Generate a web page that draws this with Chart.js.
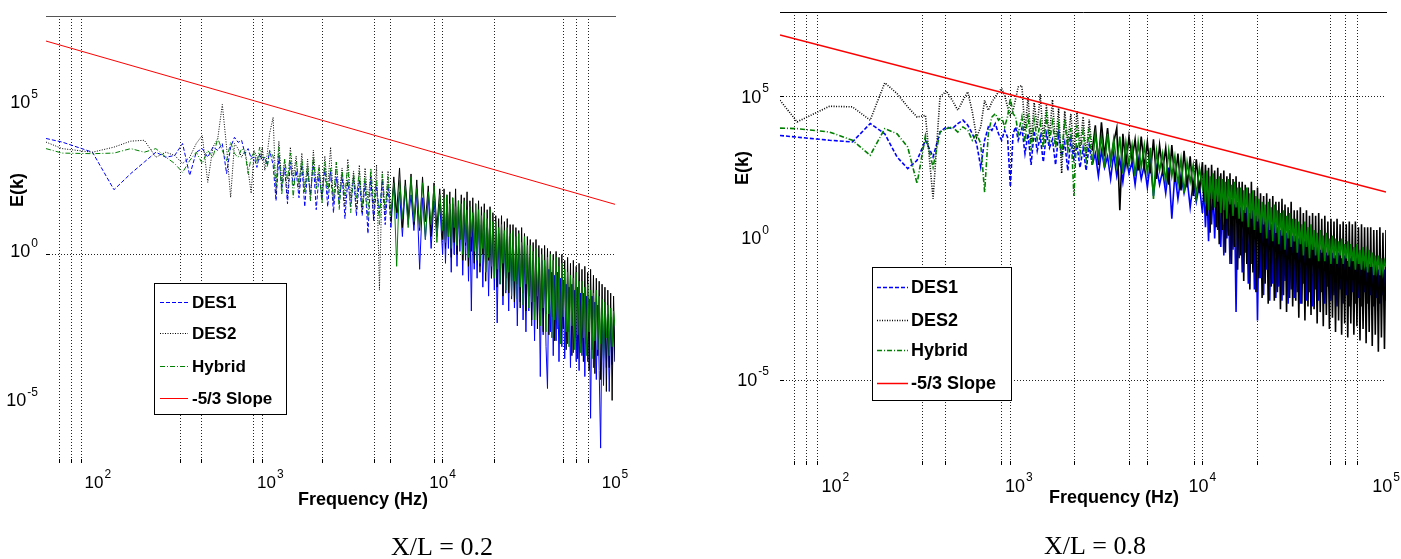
<!DOCTYPE html>
<html>
<head>
<meta charset="utf-8">
<script src="https://cdn.jsdelivr.net/npm/chart.js@4.4.1/dist/chart.umd.min.js"></script>
<style>
body { margin: 0; background: #fff; width: 1401px; height: 559px; overflow: hidden; position: relative; }
canvas { position: absolute; top: 0; }
#left { left: 0; }
#right { left: 700px; }
</style>
</head>
<body>
<canvas id="left" width="700" height="559"></canvas>
<canvas id="right" width="701" height="559"></canvas>
<script>
// ---- data (values are log10 of E(k)) ----
const seriesNames = ['DES1', 'DES2', 'Hybrid', '-5/3 Slope'];
const xTitle = 'Frequency (Hz)';
const yTitle = 'E(k)';
const captions = ['X/L = 0.2', 'X/L = 0.8'];
const xTickExps = [2, 3, 4, 5];
const yTickExps = [5, 0, -5];
const gridFreqHz = [60, 70, 80, 300, 400, 800, 900, 2000, 4000, 5000, 9000, 10000, 20000, 50000, 60000, 70000];

const freqHz = [
  50, 62, 93, 124, 155, 186, 217, 248, 279, 310,
  341, 372, 403, 434, 465, 496, 527, 558, 589, 620,
  651, 682, 713, 744, 775, 806, 837, 868, 899, 930,
  961, 992,
  1039, 1080, 1122, 1166, 1212, 1259, 1308, 1359, 1413, 1468,
  1525, 1585, 1647, 1711, 1778, 1848, 1920, 1995, 2073, 2154,
  2239, 2326, 2417, 2512, 2610, 2712, 2818, 2929, 3043, 3162,
  3286, 3415, 3548, 3687, 3831, 3981, 4137, 4299, 4467, 4642,
  4823, 5012, 5208, 5412, 5623, 5843, 6072, 6310, 6556, 6813,
  7079, 7356, 7644, 7943, 8254, 8577, 8913, 9261, 9624, 10000,
  10190, 10390, 10590, 10800, 11010, 11220, 11440, 11660, 11890, 12120, 12350, 12590,
  12830, 13080, 13340, 13590, 13860, 14130, 14400, 14680, 14960, 15250, 15550, 15850,
  16160, 16470, 16790, 17110, 17450, 17780, 18130, 18480, 18840, 19200, 19570, 19950,
  20340, 20730, 21140, 21540, 21960, 22390, 22820, 23260, 23710, 24170, 24640, 25120,
  25610, 26100, 26610, 27120, 27650, 28180, 28730, 29290, 29850, 30430, 31020, 31620,
  32240, 32860, 33500, 34150, 34810, 35480, 36170, 36870, 37580, 38310, 39050, 39810,
  40580, 41370, 42170, 42990, 43820, 44670, 45530, 46420, 47320, 48230, 49170, 50120,
  51090, 52080, 53090, 54120, 55170, 56230, 57330, 58430, 59560, 60720, 61900, 63100,
  64320, 65560, 66830, 68130, 69450, 70790, 72170, 73560, 74990, 76440, 77920, 79430,
  80970, 82540, 84140, 85770, 87430, 89130, 90850, 92610, 94410, 96240, 98100, 100000
];

// X/L = 0.2
const des1LeftExp = [
  3.89, 3.77, 3.43, 2.17, 2.71, 3.1, 3.43, 3.26, 3.32, 3.72,
  2.65, 3.43, 3.55, 3.26, 3.6, 3.49, 3.72, 2.71, 3.6, 3.93,
  3.76, 3.83, 3.38, 3.55, 3.22, 3.26, 2.92, 3.38, 3.15, 3.26,
  2.99, 3.49,
  3.0, 1.8, 3.3, 2.2, 2.9, 1.7, 3.1, 2.3, 2.8, 1.9,
  3.0, 1.6, 2.8, 2.0, 3.1, 1.5, 2.7, 1.9, 2.9, 1.6,
  2.8, 1.4, 2.6, 1.7, 2.7, 1.2, 2.5, 1.6, 2.6, 1.3,
  2.5, 1.3, 2.4, 0.7, 2.6, 1.1, 2.3, 1.4, 2.5, 1.0,
  2.3, 0.9, 2.4, 1.2, 2.1, 0.6, 2.3, 1.0, 2.0, 0.8,
  2.1, -0.5, 1.9, 0.5, 2.0, 0.2, 1.8, 0.6, 1.7, 0.0,
  1.7, -0.3, 1.6, 0.2, 1.5, -0.6, 1.7, 0.0, 1.4, -0.4, 1.6, 0.1,
  1.5, -0.7, 1.3, -0.2, 1.4, -0.9, 1.2, -1.9, 1.3, -0.5, 1.1, -0.8,
  1.2, -0.4, 1.0, -1.1, 1.1, -0.6, 0.9, -1.4, 1.0, -0.8, 0.8, -1.2,
  0.8, -2.3, 0.7, -1.0, 0.6, -1.7, 0.7, -1.3, 0.5, -1.9, 0.6, -1.5,
  0.4, -1.8, 0.3, -2.4, 0.2, -1.6, 0.3, -2.2, 0.1, -2.6, 0.0, -1.9,
  -0.1, -2.4, -0.2, -2.9, -0.1, -2.2, -0.3, -4.1, -0.2, -2.7, -0.4, -3.1,
  -4.5, -0.5, -2.6, -0.6, -3.4, -0.7, -2.9, -0.6, -3.6, -0.8, -3.1, -0.9,
  -3.5, -1.0, -3.0, -1.1, -3.8, -1.0, -3.3, -1.2, -3.6, -1.1, -3.9, -1.3,
  -3.4, -1.3, -4.1, -1.4, -3.6, -1.5, -5.5, -1.4, -3.8, -1.6, -4.2, -1.7,
  -3.9, -6.5, -1.8, -4.4, -1.9, -3.8, -2.0, -4.6, -2.1, -3.7, -2.2, -3.6
];
const des2LeftExp = [
  3.77, 3.55, 3.43, 3.6, 3.8, 3.83, 3.26, 3.43, 3.32, 3.05,
  3.26, 3.72, 3.99, 2.42, 3.6, 3.89, 5.03, 3.6, 1.91, 3.72,
  3.55, 3.26, 3.49, 2.82, 2.05, 3.49, 3.26, 3.15, 3.6, 2.82,
  3.38, 4.06,
  4.6, 2.0, 3.8, 2.4, 3.2, 1.9, 3.6, 2.6, 3.3, 2.2,
  3.4, 2.1, 3.2, 1.8, 3.5, 2.3, 3.0, 1.9, 3.3, 2.2,
  3.6, 1.7, 3.1, 2.0, 2.9, 1.6, 3.2, 1.9, 2.8, 1.5,
  3.0, 1.4, 2.9, 1.8, 2.7, 1.2, 3.0, -1.2, 2.8, 1.3,
  2.8, 1.1, 2.6, 1.4, 2.9, 0.9, 2.5, 1.2, 2.7, 1.0,
  2.5, 0.8, 2.6, 1.1, 2.3, 0.6, 2.4, 0.9, 2.2, 0.5,
  2.2, 0.2, 2.0, 0.6, 2.1, -0.1, 1.9, 0.4, 2.2, 0.0, 1.8, 0.5,
  2.0, -0.2, 1.9, 0.3, 2.1, -0.4, 1.8, 0.1, 1.9, -0.3, 1.7, 0.2,
  1.8, -0.6, 1.6, 0.0, 1.7, -0.9, 1.5, -0.2, 1.6, -0.8, 1.4, -0.4,
  1.3, -1.1, 1.2, -0.6, 1.3, -1.4, 1.1, -0.8, 1.2, -1.3, 1.0, -0.9,
  1.0, -1.6, 0.9, -1.0, 0.8, -1.8, 0.9, -1.3, 0.7, -1.9, 0.6, -1.4,
  0.5, -2.2, 0.4, -1.6, 0.5, -2.5, 0.3, -1.9, 0.2, -2.6, 0.3, -2.0,
  0.2, -2.7, 0.1, -2.1, 0.0, -2.9, 0.1, -2.4, -0.1, -3.0, 0.0, -2.5,
  -0.2, -3.2, -0.1, -2.6, -0.3, -3.4, -0.2, -2.8, -0.4, -3.5, -0.3, -3.0,
  -0.5, -3.6, -0.4, -3.0, -0.6, -3.9, -0.5, -3.2, -0.7, -4.0, -0.8, -3.4,
  -0.9, -4.2, -1.0, -3.5, -1.1, -4.6, -1.2, -3.8, -1.3, -4.9, -1.4, -3.6
];
const hybridLeftExp = [
  3.55, 3.4, 3.38, 3.4, 3.55, 3.43, 3.55, 3.26, 3.05, 2.75,
  3.15, 3.43, 3.05, 3.49, 3.26, 3.89, 3.49, 3.15, 3.76, 3.38,
  3.26, 3.55, 3.43, 2.71, 3.26, 3.43, 3.05, 3.6, 3.22, 3.26,
  2.92, 3.49,
  3.3, 2.3, 3.6, 2.0, 3.2, 2.5, 3.4, 1.9, 3.1, 2.4,
  3.2, 2.1, 3.0, 1.8, 3.3, 2.2, 2.9, 1.7, 3.1, 2.0,
  2.9, 1.8, 3.1, 1.5, 2.8, 2.0, 3.0, 1.4, 2.7, 1.9,
  2.8, 1.6, 2.6, 1.2, 2.9, 1.7, 2.5, 1.0, 2.7, 1.5,
  2.6, 1.3, 2.4, -0.4, 2.5, 1.2, 2.3, 0.9, 2.6, 1.1,
  2.2, 0.9, 2.4, 0.5, 2.1, 1.0, 2.3, 0.4, 2.0, 0.8,
  1.9, 0.4, 2.0, 0.6, 1.7, 0.2, 1.9, 0.9, 1.6, 0.3, 1.8, 0.5,
  1.7, 0.0, 1.8, 0.4, 1.5, -0.1, 1.6, 0.6, 1.4, 0.1, 1.7, -0.2,
  1.5, -0.3, 1.3, 0.2, 1.4, -0.6, 1.2, -0.1, 1.5, -0.4, 1.1, -0.8,
  1.1, -0.5, 0.9, -1.0, 1.0, -0.3, 0.8, -1.2, 0.9, -0.6, 0.7, -1.4,
  0.8, -0.9, 0.6, -1.5, 0.7, -1.1, 0.4, -1.7, 0.6, -1.0, 0.3, -1.8,
  0.3, -1.6, 0.1, -2.2, 0.2, -1.4, -0.1, -2.4, 0.0, -1.8, -0.2, -2.6,
  -0.1, -2.0, 0.0, -2.8, -0.2, -2.2, -0.1, -2.5, -0.4, -3.0, -0.3, -2.1,
  -0.5, -2.6, -0.6, -3.1, -0.7, -2.4, -0.8, -3.2, -0.6, -2.7, -0.9, -3.3,
  -0.9, -2.8, -1.1, -3.4, -1.0, -2.6, -1.2, -3.5, -1.3, -2.9, -1.2, -3.2,
  -1.4, -3.0, -1.5, -3.6, -1.6, -2.8, -1.7, -3.4, -1.8, -3.1, -1.9, -2.4
];

// X/L = 0.8
const des1RightExp = [
  3.64, 3.58, 3.47, 3.41, 4.06, 3.7, 2.88, 2.47, 2.76, 3.47,
  2.88, 3.76, 3.94, 3.88, 4.06, 4.18, 4.0, 3.7, 3.35, 2.52,
  3.47, 3.94, 3.82, 4.06, 3.7, 3.47, 3.82, 3.58, 1.82, 3.7,
  3.94, 3.47,
  3.9, 3.0, 3.7, 2.6, 3.8, 3.1, 3.6, 2.7, 3.7, 3.2,
  3.5, 2.6, 3.7, 2.9, 3.4, 2.4, 3.5, 2.8, 3.3, 2.5,
  3.2, 2.4, 3.3, 2.6, 3.0, 2.2, 3.1, 2.5, 2.9, 2.1,
  3.0, 2.2, 2.8, 2.0, 2.9, 2.3, 2.7, 1.9, 2.8, 2.1,
  2.6, 1.8, 2.7, 1.5, 2.5, 1.9, 2.4, 1.6, 2.5, 0.7,
  2.3, 1.4, 2.2, 1.6, 2.1, 1.1, 2.0, 1.3, 1.9, 0.9,
  1.8, 0.4, 1.7, -0.1, 1.6, 0.5, 1.7, 0.0, 1.5, 0.3, 1.6, -0.3,
  1.4, -0.6, 1.5, 0.0, 1.3, -0.9, 1.4, -0.4, 1.2, -2.6, 1.3, -0.7,
  1.1, -1.2, 1.0, -0.5, 1.1, -1.6, 0.9, -0.9, 1.0, -1.8, 0.8, -2.9,
  0.7, -1.4, 0.8, -2.0, 0.6, -1.1, 0.7, -2.2, 0.5, -1.6, 0.6, -2.1,
  0.4, -1.7, 0.3, -2.2, 0.4, -1.5, 0.2, -2.3, 0.3, -1.8, 0.1, -2.1,
  0.1, -1.9, 0.0, -2.3, 0.1, -1.6, -0.1, -2.2, 0.0, -1.9, -0.2, -2.4,
  -0.3, -1.8, -0.2, -2.2, -0.4, -1.9, -0.3, -2.3, -0.5, -1.7, -0.4, -2.2,
  -0.5, -2.0, -0.6, -2.4, -0.5, -1.8, -0.7, -2.3, -0.6, -2.0, -0.8, -2.4,
  -0.7, -1.9, -0.8, -2.3, -0.7, -2.1, -0.9, -2.4, -0.8, -1.9, -1.0, -2.3,
  -0.9, -2.0, -1.0, -2.4, -0.9, -2.1, -1.1, -2.3, -1.0, -2.0, -1.1, -2.2
];
const des2RightExp = [
  4.88, 4.12, 4.67, 4.65, 4.18, 5.5, 5.12, 4.65, 4.29, 4.35,
  1.41, 5.0, 5.21, 4.88, 4.53, 4.88, 5.18, 4.47, 3.58, 3.94,
  4.88, 4.53, 4.82, 5.0, 5.18, 5.3, 5.06, 4.65, 4.35, 4.53,
  4.94, 5.35,
  5.4, 3.8, 5.0, 3.4, 4.8, 3.9, 5.1, 3.5, 4.7, 3.6,
  4.9, 3.3, 4.6, 2.3, 4.5, 3.4, 4.4, 3.0, 4.5, 3.2,
  4.3, 2.9, 4.2, 3.1, 4.0, 2.6, 4.1, 2.9, 3.9, 2.7,
  3.4, 3.9, 1.0, 3.7, 2.6, 3.6, 2.8, 3.5, 2.4, 3.6,
  2.5, 3.4, 2.3, 3.5, 2.1, 3.3, 2.4, 3.2, 1.9, 3.3,
  2.0, 3.0, 1.7, 3.1, 1.8, 2.9, 1.5, 2.8, 1.6, 2.7,
  1.3, 2.6, 0.8, 2.5, 0.2, 2.6, 1.0, 2.4, 0.4, 2.5, -0.2, 2.3,
  0.3, 2.4, -0.5, 2.2, 0.1, 2.3, -0.9, 2.1, -0.3, 2.2, -1.1, 2.0,
  -0.6, 2.0, -1.5, 1.9, -0.9, 1.8, -1.8, 2.0, -1.2, 1.7, -1.9, 1.8,
  -1.4, 1.6, -2.1, 1.5, -1.6, 1.6, -2.3, 1.4, -1.7, 1.5, -2.2, 1.3,
  -1.9, 1.3, -2.5, 1.4, -2.0, 1.2, -2.6, 1.1, -2.1, 1.3, -2.4, 1.0,
  -2.2, 1.0, -2.8, 1.1, -2.3, 0.9, -2.9, 1.0, -2.4, 0.8, -2.7, 0.9,
  -2.5, 0.8, -3.0, 0.9, -2.6, 0.7, -3.1, 0.8, -2.7, 0.6, -3.2, 0.7,
  -2.8, 0.6, -3.3, 0.7, -2.9, 0.5, -3.4, 0.6, -3.0, 0.5, -3.5, 0.6,
  -3.0, 0.5, -3.4, 0.6, -3.1, 0.4, -3.6, 0.5, -3.2, 0.4, -3.7, 0.4,
  -3.3, 0.4, -3.8, 0.3, -3.4, 0.3, -4.0, 0.4, -3.5, 0.2, -3.9, 0.3
];
const hybridRightExp = [
  3.9, 3.88, 3.76, 3.47, 2.94, 3.88, 3.7, 3.23, 1.94, 3.64,
  2.52, 3.76, 3.88, 3.94, 3.76, 3.94, 3.82, 3.47, 3.7, 3.35,
  1.64, 3.7, 4.29, 4.41, 4.18, 4.29, 3.94, 4.3, 4.95, 4.41,
  4.29, 3.7,
  4.3, 3.4, 4.4, 3.1, 4.2, 3.5, 4.1, 3.2, 4.3, 3.4,
  4.1, 3.2, 4.0, 2.9, 4.2, 3.1, 3.9, 1.5, 4.0, 3.0,
  3.8, 2.8, 3.9, 2.6, 3.7, 2.9, 3.6, 2.5, 3.7, 2.7,
  3.5, 2.6, 3.6, 2.3, 3.4, 2.6, 3.3, 2.2, 3.4, 2.5,
  3.3, 2.3, 3.2, 1.4, 3.1, 2.4, 3.0, 2.0, 3.1, 2.2,
  2.9, 1.9, 2.8, 1.6, 2.7, 2.0, 2.6, 1.5, 2.5, 1.8,
  2.3, 1.2, 2.4, 1.0, 2.2, 1.4, 2.3, 1.1, 2.1, 1.3, 2.2, 0.9,
  2.1, 1.0, 2.0, 0.7, 2.1, 1.2, 1.9, 0.8, 2.0, 1.1, 1.8, 0.7,
  1.8, 0.6, 1.7, 0.9, 1.8, 0.4, 1.6, 0.7, 1.7, 0.3, 1.5, 0.6,
  1.4, 0.2, 1.3, 0.5, 1.2, 0.0, 1.3, 0.3, 1.1, -0.1, 1.2, 0.2,
  1.0, -0.2, 0.9, 0.1, 1.0, -0.4, 0.8, 0.0, 0.9, -0.3, 0.7, -0.1,
  0.7, -0.5, 0.6, -0.2, 0.5, -0.6, 0.6, -0.3, 0.4, -0.7, 0.5, -0.4,
  0.3, -0.6, 0.2, -0.8, 0.3, -0.5, 0.1, -0.8, 0.2, -0.6, 0.0, -0.9,
  0.1, -0.7, 0.0, -0.9, -0.1, -0.6, 0.0, -0.9, -0.2, -0.7, -0.1, -1.0,
  -0.2, -0.8, -0.3, -1.1, -0.2, -0.9, -0.4, -1.1, -0.3, -0.9, -0.5, -1.2,
  -0.4, -1.0, -0.5, -1.3, -0.6, -1.1, -0.6, -1.3, -0.7, -1.2, -0.8, -1.0
];

const slopeFreqHz = [50, 100000];
const slopeLeftExp = [7.16, 1.68];
const slopeRightExp = [7.19, 1.64];

// ---- drawing ----
const SANS = '"Liberation Sans", Arial, Helvetica, sans-serif';

function drawPower(ctx, x, y, e, align, size) {
  const supSize = Math.round(size * 0.68);
  ctx.font = size + 'px ' + SANS;
  const wb = ctx.measureText('10').width;
  ctx.font = supSize + 'px ' + SANS;
  const ws = ctx.measureText(String(e)).width;
  const total = wb + 1 + ws;
  const x0 = align === 'center' ? x - total / 2 : x - total;
  ctx.textAlign = 'left';
  ctx.font = size + 'px ' + SANS;
  ctx.fillText('10', x0, y);
  ctx.font = supSize + 'px ' + SANS;
  ctx.fillText(String(e), x0 + wb + 1, y - size * 0.5);
}

const figText = {
  id: 'figText',
  afterDraw(chart, args, o) {
    const ctx = chart.ctx, a = chart.chartArea;
    const sx = chart.scales.x, sy = chart.scales.y;
    ctx.save();
    ctx.fillStyle = '#000';
    ctx.textBaseline = 'middle';
    xTickExps.forEach(e => drawPower(ctx, sx.getPixelForValue(Math.pow(10, e)), a.bottom + o.xTickDy, e, 'center', o.xTickSize));
    yTickExps.forEach(e => drawPower(ctx, a.left - o.yTickGap, sy.getPixelForValue(Math.pow(10, e)) + o.yTickDy, e, 'right', o.yTickSize));

    ctx.font = 'bold 18px ' + SANS;
    ctx.textAlign = 'center';
    ctx.fillText(xTitle, o.xTitle[0], o.xTitle[1]);
    ctx.save();
    ctx.translate(o.yTitle[0], o.yTitle[1]);
    ctx.rotate(-Math.PI / 2);
    ctx.fillText(yTitle, 0, 0);
    ctx.restore();

    ctx.font = '26px "Liberation Serif", "Times New Roman", serif';
    ctx.fillText(o.caption, o.cap[0], o.cap[1]);

    // legend box
    const L = o.legend;
    ctx.fillStyle = '#fff';
    ctx.fillRect(L.x, L.y, L.w, L.h);
    ctx.strokeStyle = '#000';
    ctx.lineWidth = 1;
    ctx.strokeRect(L.x + 0.5, L.y + 0.5, L.w, L.h);
    ctx.font = 'bold ' + L.size + 'px ' + SANS;
    ctx.textAlign = 'left';
    chart.data.datasets.forEach((ds, i) => {
      const y = L.y + L.rows[i];
      ctx.save();
      ctx.strokeStyle = ds.borderColor;
      ctx.lineWidth = L.lw;
      ctx.setLineDash(ds.borderDash || []);
      ctx.beginPath();
      ctx.moveTo(L.x1, y + 0.5);
      ctx.lineTo(L.x2, y + 0.5);
      ctx.stroke();
      ctx.restore();
      ctx.fillStyle = '#000';
      ctx.fillText(ds.label, L.tx, y + 1);
    });
    ctx.restore();
  }
};

function points(exps, freqs) {
  return freqs.map((f, i) => ({ x: f, y: Math.pow(10, exps[i]) }));
}

function makeChart(id, exps, slopeExp, cfg) {
  const noSize = s => { if (s.isHorizontal()) s.height = 0; else s.width = 0; };
  // dense part of the spectrum drawn solid so the band fills in
  const denseSolid = { borderDash: c => (c.p0.parsed.x >= cfg.denseFrom ? [] : undefined) };
  return new Chart(document.getElementById(id), {
    type: 'line',
    data: {
      datasets: [
        { label: seriesNames[0], data: points(exps[0], freqHz), borderColor: '#0000ff', borderDash: [4, 2], segment: denseSolid, order: 3 },
        { label: seriesNames[1], data: points(exps[1], freqHz), borderColor: '#000000', borderDash: [1, 1.5], segment: denseSolid, order: 2 },
        { label: seriesNames[2], data: points(exps[2], freqHz), borderColor: '#008000', borderDash: [5, 2, 1, 2], segment: denseSolid, order: 1 },
        { label: seriesNames[3], data: points(slopeExp, slopeFreqHz), borderColor: '#ff0000', order: 0 }
      ]
    },
    options: {
      responsive: false,
      animation: false,
      devicePixelRatio: 1,
      layout: { padding: cfg.pad },
      elements: { point: { radius: 0 }, line: { borderWidth: cfg.lw, tension: 0 } },
      plugins: { legend: { display: false }, tooltip: { enabled: false }, figText: cfg.text },
      scales: {
        x: {
          type: 'logarithmic', position: 'bottom', min: 50, max: 100000,
          afterBuildTicks: ax => { ax.ticks = gridFreqHz.map(v => ({ value: v })); },
          afterFit: noSize,
          ticks: { display: false },
          grid: { color: '#222', lineWidth: 1, drawTicks: true, tickLength: -4, tickColor: '#000' },
          border: { display: false, dash: [1, 2] }
        },
        xTop: {
          type: 'logarithmic', position: 'top', min: 50, max: 100000,
          afterFit: noSize,
          ticks: { display: false },
          grid: { display: false, drawTicks: false },
          border: { display: true, color: cfg.topColor, width: 1 }
        },
        y: {
          type: 'logarithmic', min: cfg.yMin, max: cfg.yMax,
          afterBuildTicks: ax => { ax.ticks = cfg.yGrid.map(v => ({ value: v })); },
          afterFit: noSize,
          ticks: { display: false },
          grid: { color: '#222', lineWidth: 1, drawTicks: true, tickLength: -4, tickColor: '#000' },
          border: { display: false, dash: [1, 2] }
        }
      }
    },
    plugins: [figText]
  });
}

makeChart('left', [des1LeftExp, des2LeftExp, hybridLeftExp], slopeLeftExp, {
  pad: { left: 46, top: 16, right: 85, bottom: 96 },
  lw: 1, denseFrom: 5000, topColor: '#555', yMin: 1e-7, yMax: 1e8, yGrid: [1],
  text: {
    xTickDy: 20, xTickSize: 17, yTickGap: 8, yTickDy: -2, yTickSize: 18,
    xTitle: [363, 500], yTitle: [18, 190], caption: captions[0], cap: [442, 548],
    legend: { x: 154, y: 283, w: 132, h: 131, rows: [19, 50, 83, 115], x1: 160, x2: 188, tx: 192, size: 17, lw: 1 }
  }
});

makeChart('right', [des1RightExp, des2RightExp, hybridRightExp], slopeRightExp, {
  pad: { left: 80, top: 12, right: 15, bottom: 94 },
  lw: 1.6, denseFrom: 2500, topColor: '#000', yMin: 1e-8, yMax: 1e8, yGrid: [1e5, 1e-5],
  text: {
    xTickDy: 22, xTickSize: 18, yTickGap: 11, yTickDy: 1, yTickSize: 18,
    xTitle: [414, 498], yTitle: [43, 168], caption: captions[1], cap: [395, 547],
    legend: { x: 172, y: 267, w: 139, h: 133, rows: [20, 53, 83, 116], x1: 177, x2: 208, tx: 211, size: 18, lw: 1.5 }
  }
});
</script>
</body>
</html>
